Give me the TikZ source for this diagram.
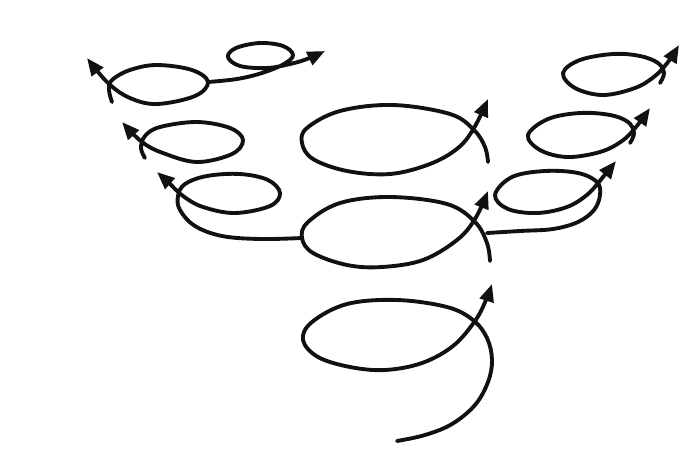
\documentclass[tikz,border=0pt]{standalone}
\usepackage{tikz}
\usetikzlibrary{arrows.meta}
\definecolor{ink}{HTML}{111111}

\begin{document}
\begin{tikzpicture}[x=0.2mm,y=-0.2mm,
    coil/.style={draw=ink,line width=2.2pt,line cap=round,line join=round},
    coilarrow/.style={coil,-{Triangle[length=10pt,width=8pt]}}]
  \useasboundingbox (0,0) rectangle (683,459);

  % Central column, bottom to top.
  \draw[coilarrow] plot[smooth,tension=0.6] coordinates {
    (397,441) (425,435) (452,424) (475,405) (488,382) (492,360) (487,338) (473,320)
    (447,307) (397,300) (347,304) (312,322) (303,340) (318,357) (350,367)
    (385,370) (422,363) (453,346) (475,321) (486,300) (492,284)};
  \draw[coilarrow] plot[smooth,tension=0.6] coordinates {
    (490,261) (487,243) (475,222) (447,204) (390,197) (340,203) (308,222)
    (302,238) (313,253) (347,265) (382,267) (423,260) (457,240) (475,219)
    (488,191)};
  \draw[coilarrow] plot[smooth,tension=0.6] coordinates {
    (488,162) (485,147) (474,130) (450,114) (393,105) (340,111) (307,128)
    (302,143) (313,159) (347,171) (390,174) (430,164) (458,148) (474,128)
    (488,99)};

  % Left branch out of the middle loop.
  \draw[coilarrow] plot[smooth,tension=0.6] coordinates {
    (302,238) (260,239) (222,236) (195,226) (180,210) (178,196) (185,184)
    (207,176) (240,174) (268,180) (280,193) (270,206) (235,213) (203,207)
    (183,196) (168,182) (157,172)};
  \draw[coilarrow] plot[smooth,tension=0.6] coordinates {
    (145,158) (141,148) (145,136) (160,127) (197,122) (230,128) (243,140)
    (232,154) (197,162) (163,153) (142,142) (122,122)};
  \draw[coilarrow] plot[smooth,tension=0.6] coordinates {
    (112,102) (109,90) (112,80) (130,70) (157,65) (192,70) (208,82)
    (195,96) (157,104) (130,98) (108,83) (87,58)};
  \draw[coilarrow] plot[smooth,tension=0.6] coordinates {
    (208,82) (237,79) (262,73) (284,64) (293,55) (283,46) (260,43)
    (236,48) (228,57) (240,66) (267,68) (290,64) (307,59) (325,51)};

  % Right branch out of the middle loop.
  \draw[coilarrow] plot[smooth,tension=0.6] coordinates {
    (487,233) (520,231) (553,229) (578,222) (594,210) (600,195) (597,182)
    (578,173) (545,171) (512,177) (495,195) (508,209) (537,213) (567,207)
    (588,194) (603,177) (616,161)};
  \draw[coilarrow] plot[smooth,tension=0.6] coordinates {
    (630,143) (634,133) (628,122) (610,115) (580,113) (548,119) (528,135)
    (540,150) (567,157) (600,152) (622,141) (636,127) (650,108)};
  \draw[coilarrow] plot[smooth,tension=0.6] coordinates {
    (660,83) (664,73) (658,63) (640,56) (613,54) (580,60) (563,73)
    (575,88) (603,95) (635,88) (655,76) (668,62) (679,45)};
\end{tikzpicture}
\end{document}
